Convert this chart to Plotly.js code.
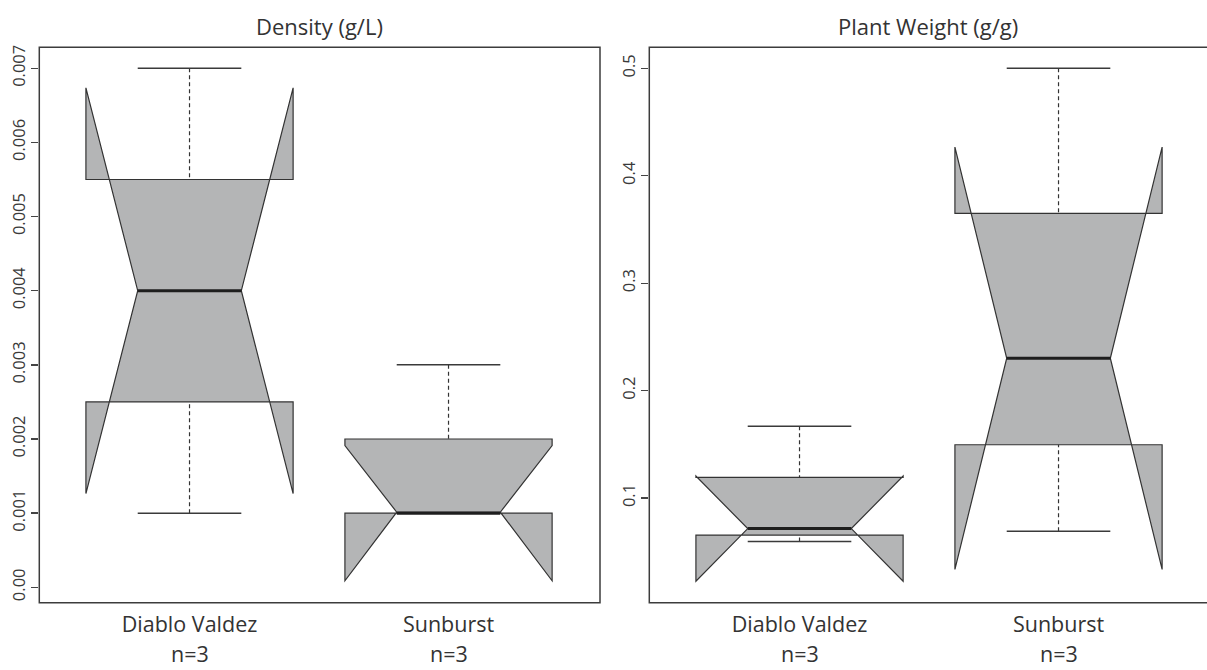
<!DOCTYPE html>
<html>
<head>
<meta charset="utf-8">
<script src="https://cdn.plot.ly/plotly-3.0.1.min.js"></script>
<style>
  html, body { margin: 0; padding: 0; background: #ffffff; }
  #chart { width: 1207px; height: 670px; }
</style>
</head>
<body>
<div id="chart"></div>
<script>
const categories = ['Diablo Valdez', 'Sunburst'];
const sampleSizeLabels = ['n=3', 'n=3'];
const panelTitles = ['Density (g/L)', 'Plant Weight (g/g)'];

const densityDiablo = [0.001, 0.004, 0.007];
const densitySunburst = [0.001, 0.001, 0.003];
const weightDiablo = [0.0594, 0.0715, 0.1668];
const weightSunburst = [0.069, 0.2301, 0.5];

const densityTickVals = [0, 0.001, 0.002, 0.003, 0.004, 0.005, 0.006, 0.007];
const densityTickText = ['0.00', '0.001', '0.002', '0.003', '0.004', '0.005', '0.006', '0.007'];
const weightTickVals = [0.1, 0.2, 0.3, 0.4, 0.5];
const weightTickText = ['0.1', '0.2', '0.3', '0.4', '0.5'];

// ---- R-style boxplot statistics (fivenum hinges, 1.5 IQR whiskers, notches) ----
function boxStats(values) {
  const x = values.slice().sort((a, b) => a - b);
  const n = x.length;
  const n4 = Math.floor((n + 3) / 2) / 2;
  const d = [1, n4, (n + 1) / 2, n + 1 - n4, n];
  const f = d.map(k => 0.5 * (x[Math.floor(k) - 1] + x[Math.ceil(k) - 1]));
  const iqr = f[3] - f[1];
  const lowLim = f[1] - 1.5 * iqr, highLim = f[3] + 1.5 * iqr;
  const inside = x.filter(v => v >= lowLim && v <= highLim);
  return {
    lo: Math.min(...inside), q1: f[1], med: f[2], q3: f[3], hi: Math.max(...inside),
    notch: 1.58 * iqr / Math.sqrt(n)
  };
}

const BOX_HALF = 0.4;      // boxwex 0.8
const STAPLE_HALF = 0.2;   // staple / notch half width
const FILL = '#b4b5b6';
const EDGE = '#333333';

function groupTraces(values, pos, xa, ya) {
  const s = boxStats(values);
  const common = { xaxis: xa, yaxis: ya, showlegend: false, hoverinfo: 'skip' };
  return [
    Object.assign({
      type: 'box', x: [pos], q1: [s.q1], median: [s.med], q3: [s.q3],
      lowerfence: [s.q1], upperfence: [s.q3],
      notched: true, notchspan: [s.notch], notchwidth: 0.25,
      width: 2 * BOX_HALF, whiskerwidth: 0,
      fillcolor: FILL, line: { color: EDGE, width: 1.2 }
    }, common),
    // dashed whiskers (drawn from the extreme toward the hinge, as R does)
    Object.assign({
      type: 'scatter', mode: 'lines', x: [pos, pos], y: [s.hi, s.q3],
      line: { color: EDGE, width: 1.2, dash: '4px,3px' }
    }, common),
    Object.assign({
      type: 'scatter', mode: 'lines', x: [pos, pos], y: [s.lo, s.q1],
      line: { color: EDGE, width: 1.2, dash: '4px,3px' }
    }, common),
    // staples
    Object.assign({
      type: 'scatter', mode: 'lines', x: [pos - STAPLE_HALF, pos + STAPLE_HALF], y: [s.hi, s.hi],
      line: { color: '#3a3a3a', width: 1.5 }
    }, common),
    Object.assign({
      type: 'scatter', mode: 'lines', x: [pos - STAPLE_HALF, pos + STAPLE_HALF], y: [s.lo, s.lo],
      line: { color: '#3a3a3a', width: 1.5 }
    }, common),
    // thick median
    Object.assign({
      type: 'scatter', mode: 'lines', x: [pos - STAPLE_HALF, pos + STAPLE_HALF], y: [s.med, s.med],
      line: { color: '#1e1e1e', width: 3 }
    }, common)
  ];
}

const positions = [1, 2];
const data = [].concat(
  groupTraces(densityDiablo, positions[0], 'x', 'y'),
  groupTraces(densitySunburst, positions[1], 'x', 'y'),
  groupTraces(weightDiablo, positions[0], 'x2', 'y2'),
  groupTraces(weightSunburst, positions[1], 'x2', 'y2')
);

const W = 1207, H = 670;
const plotTop = 47.3, plotBottom = 602.7;
const yDomain = [(H - plotBottom) / H, (H - plotTop) / H];
const leftDom = [39.3 / W, 600 / W];
const rightDom = [649.3 / W, 1];
const pxPerUnit = 259;

const tickFont = { family: 'Open Sans, Noto Sans, sans-serif', size: 16.5, color: '#3a3a3a' };
const titleFont = { family: 'Open Sans, Noto Sans, sans-serif', size: 22, color: '#333333' };
const labelFont = { family: 'Open Sans, Noto Sans, sans-serif', size: 21.5, color: '#333333' };

function xAxis(domain, anchor) {
  return {
    domain: domain, anchor: anchor,
    range: [0.42, 0.42 + (domain[1] - domain[0]) * W / pxPerUnit],
    tickmode: 'array', tickvals: positions, ticktext: categories,
    ticks: '', showgrid: false, zeroline: false, showline: false,
    tickfont: labelFont, ticklabelstandoff: 7, fixedrange: true
  };
}
function yAxis(range, vals, text, anchor) {
  return {
    domain: yDomain, anchor: anchor, range: range,
    tickmode: 'array', tickvals: vals, ticktext: text,
    ticks: 'outside', ticklen: 7, tickwidth: 1.3, tickcolor: '#444444',
    tickangle: -90, tickfont: tickFont,
    showgrid: false, zeroline: false, showline: false, fixedrange: true
  };
}

const frameLine = { color: '#3c3c3c', width: 1.5 };
const annotations = [];
panelTitles.forEach((t, i) => {
  annotations.push({
    text: t, xref: (i === 0 ? 'x' : 'x2') + ' domain', x: 0.5, yref: 'paper', y: (H - 25.5) / H,
    xanchor: 'center', yanchor: 'middle', showarrow: false, font: titleFont
  });
});
['x', 'x2'].forEach(xa => {
  positions.forEach((p, j) => {
    annotations.push({
      text: sampleSizeLabels[j], xref: xa, x: p, yref: 'paper', y: 0,
      xanchor: 'center', yanchor: 'bottom', showarrow: false, font: labelFont
    });
  });
});

const layout = {
  width: W, height: H,
  margin: { l: 0, r: 0, t: 0, b: 0 },
  paper_bgcolor: '#ffffff', plot_bgcolor: '#ffffff',
  showlegend: false,
  xaxis: xAxis(leftDom, 'y'),
  yaxis: yAxis([-0.000208, 0.007283], densityTickVals, densityTickText, 'x'),
  xaxis2: xAxis(rightDom, 'y2'),
  yaxis2: yAxis([0.0025, 0.5196], weightTickVals, weightTickText, 'x2'),
  shapes: [
    { type: 'rect', xref: 'x domain', yref: 'y domain', x0: 0, x1: 1, y0: 0, y1: 1, line: frameLine },
    { type: 'rect', xref: 'x2 domain', yref: 'y2 domain', x0: 0, x1: 1.006, y0: 0, y1: 1, line: frameLine }
  ],
  annotations: annotations
};

Plotly.newPlot('chart', data, layout, { displayModeBar: false, staticPlot: true });
</script>
</body>
</html>
